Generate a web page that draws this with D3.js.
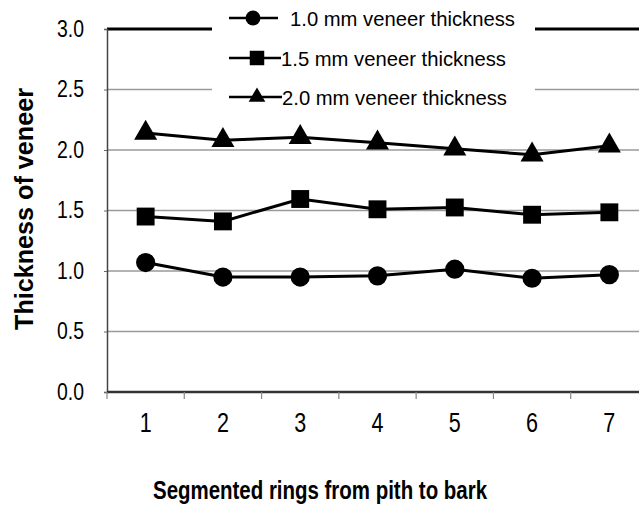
<!DOCTYPE html>
<html>
<head>
<meta charset="utf-8">
<script src="https://cdn.jsdelivr.net/npm/d3@7"></script>
<style>
  body { margin: 0; background: #fff; }
  svg { display: block; font-family: "Liberation Sans", Arial, sans-serif; }
</style>
</head>
<body>
<svg id="vis" width="639" height="508"></svg>
<script>
const width = 639;
const height = 508;

// data
const rings = [1, 2, 3, 4, 5, 6, 7];
const veneer10 = [1.07, 0.95, 0.95, 0.96, 1.015, 0.94, 0.97];
const veneer15 = [1.45, 1.41, 1.595, 1.51, 1.525, 1.465, 1.485];
const veneer20 = [2.14, 2.08, 2.105, 2.06, 2.01, 1.96, 2.035];
const yTicks = [0, 0.5, 1, 1.5, 2, 2.5, 3];
const seriesNames = ["1.0 mm veneer thickness", "1.5 mm veneer thickness", "2.0 mm veneer thickness"];

const series = [
  { name: seriesNames[0], values: veneer10, symbol: d3.symbolCircle, size: 290, legendSize: 175 },
  { name: seriesNames[1], values: veneer15, symbol: d3.symbolSquare, size: 320, legendSize: 210 },
  { name: seriesNames[2], values: veneer20, symbol: d3.symbolTriangle, size: 230, legendSize: 120 }
];

const plot = { left: 107, right: 648, top: 29, bottom: 392 };

const svg = d3.select("svg#vis");

const x = d3.scaleBand().domain(rings).range([plot.left, plot.right]);
const y = d3.scaleLinear().domain([0, 3]).range([plot.bottom, plot.top]);

// gridlines
svg.append("g")
  .selectAll("line")
  .data(yTicks.filter(d => d > 0))
  .enter()
  .append("line")
  .attr("x1", plot.left)
  .attr("x2", plot.right)
  .attr("y1", d => y(d))
  .attr("y2", d => y(d))
  .style("stroke", d => d === 3 ? "#000" : "#9a9a9a")
  .style("stroke-width", d => d === 3 ? 3 : 1.5);

// y axis
const yAxis = svg.append("g")
  .attr("transform", "translate(" + plot.left + ",0)")
  .call(d3.axisLeft(y).tickValues(yTicks).tickFormat(d3.format(".1f")).tickSize(3).tickPadding(20));
yAxis.select(".domain").style("stroke", "#444").style("stroke-width", 1.5);
yAxis.selectAll(".tick line").style("stroke", "#666");
yAxis.selectAll(".tick text")
  .style("font-size", "23px")
  .style("font-family", "'Liberation Sans', Arial, sans-serif")
  .attr("fill", "#000")
  .attr("textLength", 27)
  .attr("lengthAdjust", "spacingAndGlyphs");

// x axis: ticks sit on band edges
svg.append("line")
  .attr("x1", plot.left)
  .attr("x2", plot.right)
  .attr("y1", y(0))
  .attr("y2", y(0))
  .style("stroke", "#333")
  .style("stroke-width", 2.5);

const edges = rings.map(d => x(d)).concat([plot.right]);
svg.append("g")
  .selectAll("line")
  .data(edges)
  .enter()
  .append("line")
  .attr("x1", d => d)
  .attr("x2", d => d)
  .attr("y1", y(0))
  .attr("y2", y(0) + 7)
  .style("stroke", "#888")
  .style("stroke-width", 1.2);

svg.append("g")
  .selectAll("text")
  .data(rings)
  .enter()
  .append("text")
  .attr("x", d => x(d) + x.bandwidth() / 2)
  .attr("y", 422)
  .attr("dy", "0.36em")
  .attr("text-anchor", "middle")
  .style("font-size", "27px")
  .attr("textLength", 12)
  .attr("lengthAdjust", "spacingAndGlyphs")
  .text(d => d);

// lines and markers
const line = d3.line()
  .x((d, i) => x(rings[i]) + x.bandwidth() / 2)
  .y(d => y(d));

series.forEach(function(s) {
  const g = svg.append("g");
  g.append("path")
    .attr("d", line(s.values))
    .style("fill", "none")
    .style("stroke", "#000")
    .style("stroke-width", 3);
  g.selectAll("path.marker")
    .data(s.values)
    .enter()
    .append("path")
    .attr("class", "marker")
    .attr("d", d3.symbol().type(s.symbol).size(s.size))
    .attr("transform", (d, i) => "translate(" + (x(rings[i]) + x.bandwidth() / 2) + "," + y(d) + ")")
    .style("fill", "#000");
});

// legend
const legend = svg.append("g");
legend.append("rect")
  .attr("x", 212)
  .attr("y", 0)
  .attr("width", 323)
  .attr("height", 110)
  .style("fill", "#fff");

const legendRows = [
  { y: 18, x1: 229, x2: 278, mx: 253, tx: 290 },
  { y: 58, x1: 229, x2: 281, mx: 257, tx: 281 },
  { y: 97, x1: 229, x2: 282, mx: 257, tx: 282 }
];

series.forEach(function(s, i) {
  const r = legendRows[i];
  legend.append("line")
    .attr("x1", r.x1)
    .attr("x2", r.x2)
    .attr("y1", r.y)
    .attr("y2", r.y)
    .style("stroke", "#000")
    .style("stroke-width", 2.5);
  legend.append("path")
    .attr("d", d3.symbol().type(s.symbol).size(s.legendSize))
    .attr("transform", "translate(" + r.mx + "," + r.y + ")")
    .style("fill", "#000");
  legend.append("text")
    .attr("x", r.tx)
    .attr("y", r.y)
    .attr("dy", "0.36em")
    .style("font-size", "21px")
    .attr("textLength", 225)
    .attr("lengthAdjust", "spacingAndGlyphs")
    .text(s.name);
});

// axis titles
svg.append("text")
  .attr("transform", "translate(33,209) rotate(-90)")
  .attr("text-anchor", "middle")
  .style("font-size", "25px")
  .style("font-weight", "bold")
  .attr("textLength", 242)
  .attr("lengthAdjust", "spacingAndGlyphs")
  .text("Thickness of veneer");

svg.append("text")
  .attr("x", 153)
  .attr("y", 499)
  .style("font-size", "25px")
  .style("font-weight", "bold")
  .attr("textLength", 334)
  .attr("lengthAdjust", "spacingAndGlyphs")
  .text("Segmented rings from pith to bark");
</script>
</body>
</html>
